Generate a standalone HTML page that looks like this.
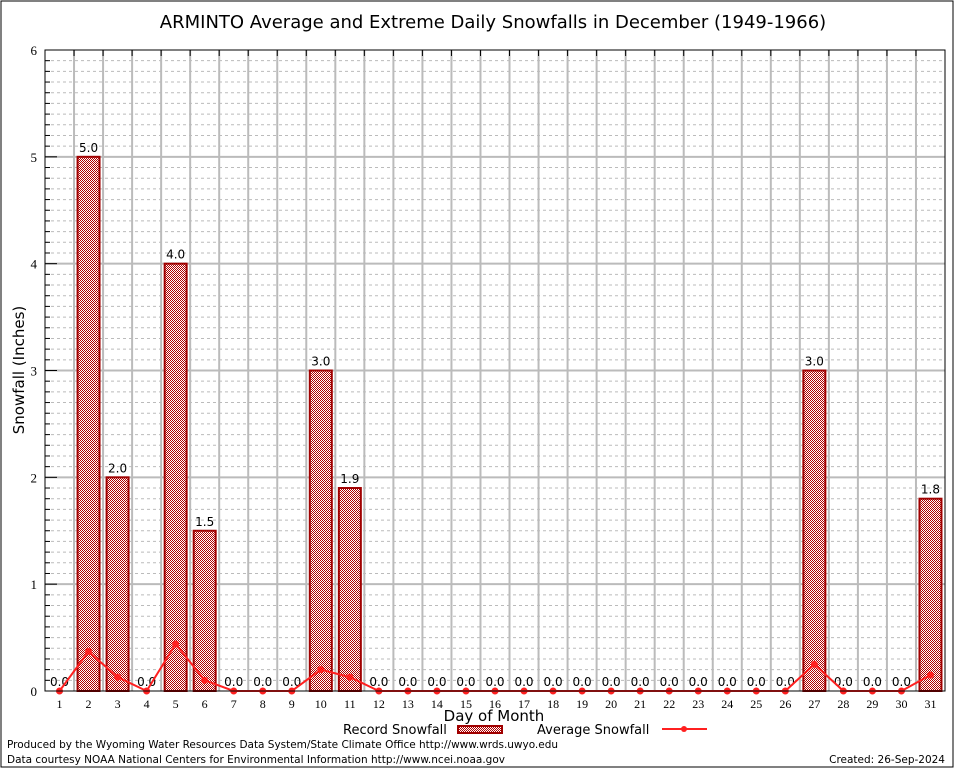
<!DOCTYPE html>
<html><head><meta charset="utf-8"><style>
body{margin:0;background:#fff;width:954px;height:768px;overflow:hidden;font-family:"DejaVu Sans","Liberation Sans",sans-serif}
</style></head><body>
<svg id="chart" width="954" height="768" xmlns="http://www.w3.org/2000/svg">
<defs>
<pattern id="hatch" width="2" height="2" patternUnits="userSpaceOnUse">
<rect width="2" height="2" fill="#fff"/>
<rect width="1" height="1" fill="#b00000"/><rect x="1" y="1" width="1" height="1" fill="#b00000"/>
</pattern>
</defs>
<rect x="1" y="1" width="952" height="766" fill="none" stroke="#000"/>
<text x="493" y="28" font-size="18" text-anchor="middle">ARMINTO Average and Extreme Daily Snowfalls in December (1949-1966)</text>
<g id="grid"></g>
<g id="bars"></g>
<g id="line"></g>
<g id="axes"></g>
<text transform="translate(24,370) rotate(-90)" font-size="15" text-anchor="middle">Snowfall (Inches)</text>
<text x="494" y="721" font-size="15" text-anchor="middle">Day of Month</text>
<g>
<text x="343" y="734" font-size="13">Record Snowfall</text>
<rect x="458" y="726" width="44" height="7" fill="url(#hatch)" stroke="#a00000" stroke-width="2"/>
<text x="537" y="734" font-size="13">Average Snowfall</text>
<line x1="662" y1="729" x2="707" y2="729" stroke="#ff2020" stroke-width="2"/>
<circle cx="684" cy="729" r="3" fill="#ff2020"/>
</g>
<text x="7" y="748" font-size="10.5" textLength="551">Produced by the Wyoming Water Resources Data System/State Climate Office http://www.wrds.uwyo.edu</text>
<text x="7" y="763" font-size="10.5" textLength="498">Data courtesy NOAA National Centers for Environmental Information http://www.ncei.noaa.gov</text>
<text x="945" y="763" font-size="10.5" text-anchor="end">Created: 26-Sep-2024</text>
</svg>
<script>
const days=[1,2,3,4,5,6,7,8,9,10,11,12,13,14,15,16,17,18,19,20,21,22,23,24,25,26,27,28,29,30,31];
const recordSnow=[0,5.0,2.0,0,4.0,1.5,0,0,0,3.0,1.9,0,0,0,0,0,0,0,0,0,0,0,0,0,0,0,3.0,0,0,0,1.8];
const avgSnow=[0,0.37,0.13,0,0.44,0.1,0,0,0,0.2,0.13,0,0,0,0,0,0,0,0,0,0,0,0,0,0,0,0.25,0,0,0,0.15];
const yTicks=[0,1,2,3,4,5,6];
const L=45,R=945,T=50,B=691,YMAX=6;
const slot=(R-L)/days.length;
const xs=d=>L+slot*(d-0.5);
const ys=v=>B-(v/YMAX)*(B-T);
const NS="http://www.w3.org/2000/svg";
function mk(tag,attrs,parent){const e=document.createElementNS(NS,tag);for(const k in attrs)e.setAttribute(k,attrs[k]);document.getElementById(parent).appendChild(e);return e;}
for(let i=1;i<YMAX*10;i++){
 if(i%10===0)continue;
 const g=mk('line',{x1:L,x2:R,y1:ys(i/10),y2:ys(i/10),stroke:'#bbb','stroke-dasharray':'3,3'},'grid');
 
 
}
yTicks.forEach(t=>{if(t===0||t===YMAX)return;
 const g=mk('line',{x1:L,x2:R,y1:ys(t),y2:ys(t),stroke:'#bbb','stroke-width':2},'grid');
 
 
});
for(let k=1;k<days.length;k++){
 const x=L+slot*k;
 const g=mk('line',{x1:x,x2:x,y1:T,y2:B,stroke:'#bbb','stroke-width':2},'grid');
 
 
 const t=mk('line',{x1:x,x2:x,y1:T,y2:T+6,stroke:'#000'},'axes');
 
 
}
days.forEach((d,i)=>{
 const v=recordSnow[i];
 if(v>0){
  const r=mk('rect',{x:xs(d)-11,y:ys(v),width:22,height:ys(0)-ys(v),fill:'url(#hatch)',stroke:'#a00000','stroke-width':2},'bars');
  
  
 }
 const lb=mk('text',{x:xs(d),y:ys(v)-5,'font-size':12,'text-anchor':'middle'},'bars');
 lb.textContent=v.toFixed(1);
 
 
});
const pl=mk('polyline',{points:days.map((d,i)=>xs(d)+','+ys(avgSnow[i])).join(' '),fill:'none',stroke:'#ff2020','stroke-width':2},'line');


days.forEach((d,i)=>{
 const c=mk('circle',{cx:xs(d),cy:ys(avgSnow[i]),r:3.5,fill:'#ff2020'},'line');
 
 
});
const fr=mk('rect',{x:L,y:T,width:R-L,height:B-T,fill:'none',stroke:'#000'},'axes');


for(let i=1;i<YMAX*10;i++){
 const len=i%10===0?12:5;
 const t=mk('line',{x1:L,x2:L+len,y1:ys(i/10),y2:ys(i/10),stroke:'#000'},'axes');
 
 
}
yTicks.forEach(t=>{
 const e=mk('text',{x:L-8,y:ys(t)+5,'font-size':13,'text-anchor':'end','font-family':'Liberation Serif,serif'},'axes');
 e.textContent=t;
 
 
});
days.forEach(d=>{
 const e=mk('text',{x:xs(d),y:708,'font-size':12,'text-anchor':'middle','font-family':'Liberation Serif,serif'},'axes');
 e.textContent=d;
 
 
});
</script>
</body></html>
